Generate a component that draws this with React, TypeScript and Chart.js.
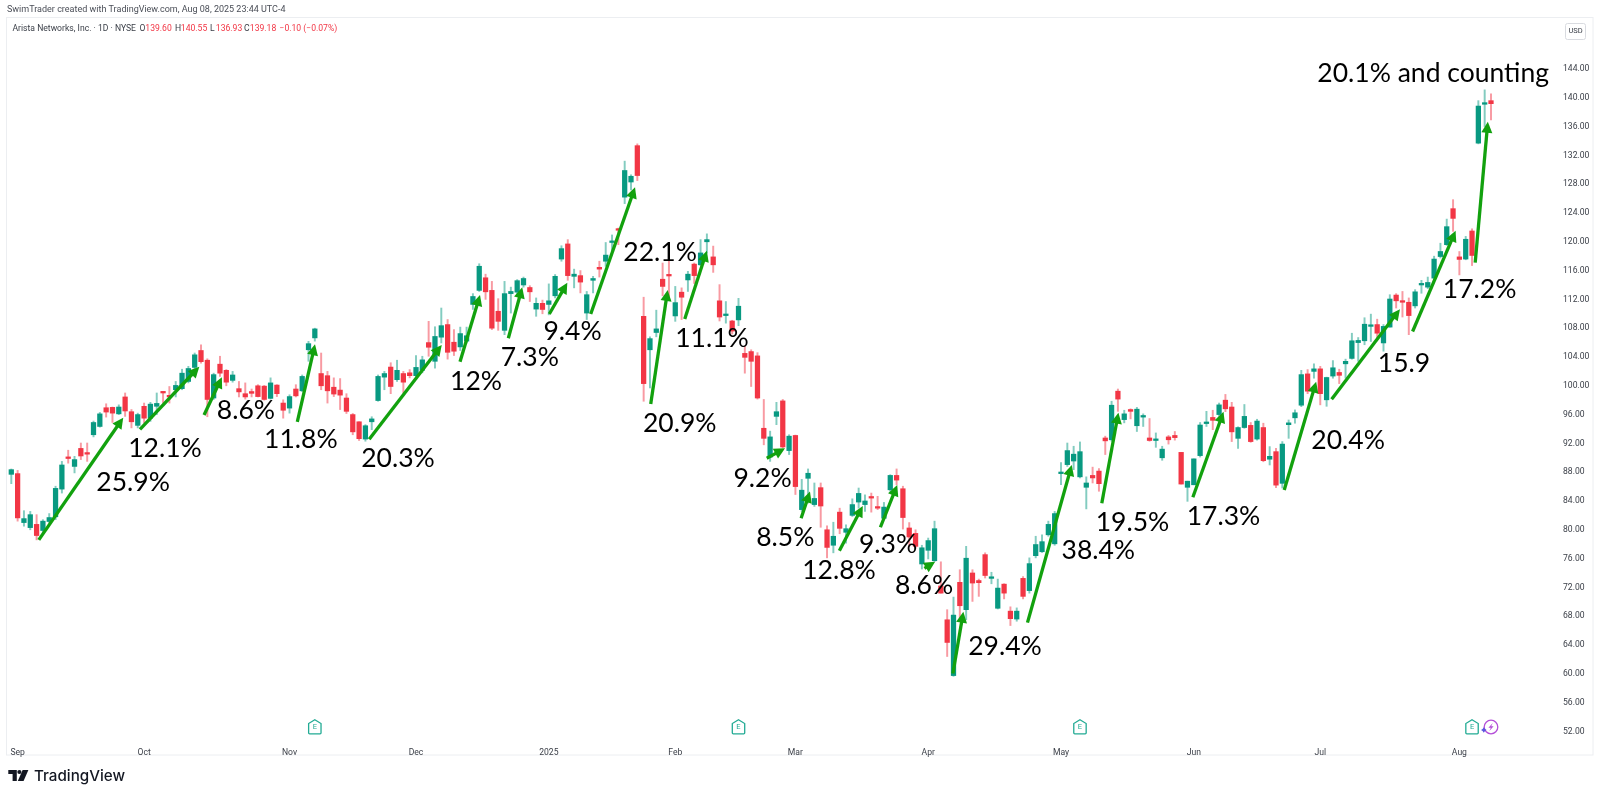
import React, { useEffect, useRef } from "react";
import { Chart, registerables } from "chart.js";

Chart.register(...registerables);

const opens = [
  87.7,87.8,81.0,80.3,80.75,79.9,81.15,81.8,85.65,90.1,
  88.8,91.3,90.6,93.2,94.35,96.95,97.0,96.1,98.45,96.4,
  94.5,97.15,95.5,97.15,99.15,98.6,99.45,99.6,100.6,102.55,
  104.9,103.55,98.3,103.0,102.15,100.75,99.6,98.9,99.2,100.0,
  99.95,98.25,100.1,97.6,96.9,99.55,99.3,105.0,106.65,101.7,
  101.4,99.8,99.4,98.3,96.0,95.0,92.6,95.0,97.95,101.2,
  102.6,100.85,101.7,101.8,101.4,102.15,106.0,103.4,106.75,108.5,
  106.05,105.4,106.2,111.3,113.25,115.0,113.25,110.35,107.7,112.8,
  113.0,114.0,113.65,110.65,111.45,111.3,112.5,117.6,119.7,115.2,
  115.3,110.1,114.65,116.45,117.3,119.9,121.75,126.2,128.3,133.35,
  109.65,105.0,107.4,114.8,115.4,109.7,113.0,114.7,116.9,116.8,
  120.0,117.9,111.8,109.75,109.0,109.15,104.5,104.75,104.15,94.1,
  90.1,95.75,97.9,91.0,93.1,82.8,87.15,83.5,85.85,80.0,
  77.85,82.45,79.65,82.0,83.85,83.5,84.55,83.1,81.6,85.55,
  87.55,85.7,80.25,79.5,75.25,77.15,75.7,72.2,67.5,59.75,
  72.7,68.9,74.0,72.95,76.55,73.25,69.1,72.45,68.7,67.6,
  73.25,71.55,76.4,76.95,79.3,78.05,87.8,89.05,89.55,87.35,
  85.9,87.55,88.15,92.75,92.5,99.25,95.3,96.7,94.45,95.65,
  92.75,92.4,90.0,92.9,93.1,90.75,85.9,86.25,90.3,94.75,
  95.6,96.0,98.0,97.05,92.7,94.2,94.5,92.6,94.2,89.8,
  90.85,86.45,94.6,95.55,97.3,101.65,102.0,102.35,98.05,101.35,
  101.85,103.05,103.8,106.0,106.25,108.25,108.5,105.95,108.15,112.6,
  111.8,111.6,111.1,114.0,113.7,114.95,117.95,119.6,124.6,117.9,
  117.6,121.5,133.7,139.1,139.6,
];

const highs = [
  88.44,88.25,82.65,82.55,82.1,81.4,82.25,86.05,89.5,91.05,
  90.2,92.05,92.05,95.1,96.3,97.5,97.05,97.35,99.0,96.7,
  96.2,97.6,97.7,99.0,99.2,99.9,100.6,102.3,102.7,104.55,
  105.7,103.75,101.75,104.1,102.25,102.0,100.6,100.4,99.55,100.15,
  100.05,101.1,100.15,98.05,98.75,100.15,101.5,106.17,108.0,104.55,
  102.0,101.1,101.0,98.9,96.15,95.0,94.6,95.7,101.5,102.0,
  103.2,103.55,102.0,102.25,104.2,104.1,108.95,108.2,110.8,109.2,
  107.8,108.15,108.15,112.8,116.95,115.5,114.5,112.1,114.5,113.7,
  114.75,115.1,113.9,112.2,111.9,114.15,115.45,119.45,120.3,116.2,
  116.0,113.1,115.2,117.3,119.9,120.95,121.9,131.2,129.3,133.6,
  112.3,106.8,110.5,117.05,117.4,113.8,113.6,115.9,117.05,120.3,
  121.1,119.4,114.05,111.7,109.1,112.15,105.5,105.0,104.6,98.1,
  93.7,97.7,98.1,93.2,93.15,87.0,88.45,86.5,86.5,80.55,
  81.05,83.0,80.7,84.3,85.8,84.85,85.1,84.65,83.8,87.65,
  88.45,86.05,81.0,80.0,77.85,78.85,81.2,75.55,68.9,70.65,
  74.45,77.7,74.45,73.15,76.8,74.1,73.15,72.5,69.3,69.15,
  73.5,76.1,79.1,79.3,81.2,82.55,89.35,92.05,91.6,92.2,
  87.35,88.7,88.5,93.0,97.85,99.55,96.6,96.8,97.0,96.1,
  95.45,93.45,91.6,93.1,93.65,90.75,86.75,89.85,94.9,96.45,
  96.6,97.6,98.8,97.7,94.3,97.4,94.9,95.35,94.8,91.55,
  91.3,92.25,95.25,96.65,102.15,102.25,103.05,102.7,101.2,103.5,
  102.3,103.7,107.3,106.7,109.45,109.95,109.25,108.5,112.65,112.8,
  113.1,112.2,113.35,114.65,115.1,118.0,119.8,123.15,125.85,118.65,
  120.75,121.8,139.6,141.1,140.55,
];

const lows = [
  86.4,81.2,80.5,80.0,78.6,79.55,80.95,81.4,85.1,89.25,
  87.9,89.75,89.5,92.9,94.25,95.65,94.9,96.0,95.75,94.15,
  94.15,94.85,95.05,96.0,97.6,97.6,98.45,99.45,100.4,102.25,
  103.15,95.7,98.1,101.3,100.0,100.5,98.45,98.15,98.45,98.45,
  98.0,98.15,98.5,95.5,96.2,98.45,99.2,103.4,106.2,99.45,
  97.6,98.5,96.7,96.15,93.2,92.4,92.3,93.9,97.85,99.45,
  98.9,100.6,99.0,101.1,101.1,101.8,104.1,102.45,105.95,103.7,
  104.2,104.9,105.95,110.6,113.1,112.0,107.8,107.7,107.1,110.1,
  112.4,113.7,111.7,109.65,110.0,109.85,112.2,117.3,114.65,113.6,
  112.9,109.2,112.9,115.1,116.6,118.2,119.6,125.3,127.2,128.5,
  97.85,99.7,106.8,112.5,112.4,108.95,109.2,113.1,114.2,116.7,
  118.45,115.75,109.0,108.7,107.2,108.35,101.75,99.9,98.15,91.8,
  89.5,94.6,91.35,90.45,84.9,82.55,83.7,83.25,80.35,76.1,
  76.8,79.45,78.15,81.85,83.0,82.55,82.45,82.8,81.4,85.35,
  86.25,80.1,77.7,77.45,74.55,75.95,75.6,71.2,62.4,59.65,
  67.75,67.5,70.05,70.75,73.3,72.5,69.0,70.4,66.7,67.3,
  70.4,71.2,76.1,76.85,79.1,77.85,86.25,88.8,88.35,87.2,
  82.9,86.5,85.35,90.45,92.3,96.45,94.85,95.4,93.65,94.35,
  92.3,91.45,89.65,91.9,92.45,86.35,83.95,86.25,90.1,94.35,
  93.9,95.75,96.4,92.25,91.3,94.1,92.15,92.45,89.45,89.0,
  85.85,85.8,92.7,94.8,97.1,98.9,101.05,97.35,97.15,101.05,
  100.3,101.05,103.7,103.4,105.7,106.15,106.6,104.8,108.15,110.8,
  109.55,107.1,110.8,112.85,113.5,114.7,117.75,119.5,121.45,115.4,
  117.5,116.7,133.6,136.0,136.93,
];

const closes = [
  88.35,81.65,81.55,82.1,79.2,81.2,81.7,85.75,89.0,89.9,
  89.75,90.25,90.5,94.9,96.1,96.35,96.2,97.05,96.5,95.0,
  96.0,95.5,97.45,97.55,99.0,98.45,100.05,101.75,102.4,104.3,
  103.35,98.1,101.55,101.75,100.5,101.5,99.15,98.45,98.95,98.5,
  98.1,100.4,98.9,96.6,98.5,98.6,101.3,105.85,107.9,100.0,
  99.3,98.85,98.7,96.45,93.6,92.65,94.45,95.4,101.3,101.7,
  99.9,102.15,100.5,101.4,102.55,103.6,105.35,106.85,108.35,104.65,
  104.8,107.25,106.95,112.4,116.6,113.05,108.0,108.95,112.8,113.1,
  114.6,114.9,113.05,111.45,110.6,111.8,115.2,119.05,115.3,115.5,
  114.4,112.65,114.9,116.2,118.15,120.0,121.6,129.9,129.1,129.2,
  100.3,106.55,107.9,113.8,115.25,111.55,112.3,115.5,115.3,118.45,
  120.3,116.8,109.55,109.85,107.6,111.05,103.95,103.4,98.3,92.7,
  92.9,96.4,91.5,93.0,86.0,85.5,87.85,84.35,83.3,77.55,
  79.1,80.2,80.15,83.5,85.05,84.0,84.4,83.0,83.15,87.55,
  86.9,81.7,79.0,77.7,77.5,78.5,80.15,71.2,64.35,68.15,
  69.45,76.05,72.6,72.65,73.65,73.35,71.9,71.2,67.65,68.7,
  70.75,75.3,77.95,78.35,80.75,82.25,87.95,91.0,90.5,90.85,
  86.5,87.2,86.4,92.35,97.3,98.15,96.1,96.45,96.75,95.75,
  92.4,92.55,91.2,92.5,92.8,86.35,86.75,89.85,94.55,94.95,
  95.2,97.35,96.8,93.6,94.2,95.75,92.25,95.1,89.6,90.2,
  86.2,91.9,94.85,96.25,101.55,99.25,102.35,98.9,101.15,102.5,
  101.45,103.4,106.25,106.3,108.55,108.4,107.3,108.25,112.05,111.8,
  111.6,109.75,113.05,114.1,114.35,117.6,118.65,122.1,123.25,117.55,
  120.35,118.1,138.85,139.2,139.18,
];

const priceTicks = [52,56,60,64,68,72,76,80,84,88,92,96,100,104,108,112,116,120,124,128,132,136,140,144];
const monthSessions = [1,21,44,64,85,105,124,145,166,187,207,229];
const monthNames = ["Sep","Oct","Nov","Dec","2025","Feb","Mar","Apr","May","Jun","Jul","Aug"];
const earningsSessions = [48,115,169,231];

const arrowFromSession = [4.35,20.35,30.48,45.23,56.6,70.96,78.6,85.08,91.63,101.12,106.5,119.47,124.9,130.95,137.44,144.4,148.9,160.7,172.45,186.85,201.3,208.8,221.6,231.5];
const arrowFromPrice = [78.6,93.96,95.94,95.0,92.57,103.35,106.6,109.97,109.97,97.47,109.28,89.93,81.6,77.1,80.35,74.65,60.04,67.1,83.68,84.51,85.53,98.12,107.54,117.1];
const arrowToSession = [17.7,29.73,33.3,48.03,68.07,74.12,80.8,87.93,98.64,103.8,110.0,122.36,126.3,134.65,140.1,146.1,150.56,167.7,175.08,191.7,206.35,219.6,228.4,233.5];
const arrowToPrice = [95.57,102.65,101.18,105.76,105.67,112.61,113.68,114.32,127.57,113.31,118.76,91.32,85.3,83.3,86.22,75.57,68.62,89.0,96.26,96.4,100.57,110.63,121.54,136.68];

const noteTexts = ["25.9%","12.1%","8.6%","11.8%","20.3%","12%","7.3%","9.4%","22.1%","20.9%","11.1%","9.2%","8.5%","12.8%","9.3%","8.6%","29.4%","38.4%","19.5%","17.3%","20.4%","15.9","17.2%","20.1% and counting"];
const noteSessions = [19.26,24.3,37.1,45.8,61.15,73.5,82.0,88.75,102.6,105.7,110.8,118.8,122.4,130.9,138.65,144.35,157.15,171.9,177.3,191.7,211.4,220.25,232.2,224.85];
const notePrices = [86.64,91.25,96.57,92.61,89.97,100.67,104,107.53,118.58,94.76,106.57,87.06,79,74.42,77.9,72.2,63.86,77.15,81,81.8,92.47,103.17,113.44,143.37];

const headerText = "SwimTrader created with TradingView.com, Aug 08, 2025 23:44 UTC-4";
const legendName = "Arista Networks, Inc. · 1D · NYSE";
const legendLetters = ["O","H","L","C"];
const legendValues = ["139.60","140.55","136.93","139.18"];
const legendChange = "−0.10 (−0.07%)";

const UP = "#089981";
const DOWN = "#f23645";
const UP_WICK = "rgba(8,153,129,0.5)";
const DOWN_WICK = "rgba(242,54,69,0.5)";
const ARROW = "#12a10e";

const sessions = opens.map((_, i) => {
  const k = monthSessions.indexOf(i);
  return k >= 0 ? monthNames[k] : "";
});
const isUp = closes.map((c, i) => c >= opens[i]);

const overlay = {
  id: "overlay",
  beforeDraw(chart: any) {
    const ctx = chart.ctx;
    ctx.save();
    ctx.fillStyle = "#ffffff";
    ctx.fillRect(0, 0, chart.width, chart.height);
    ctx.strokeStyle = "#eceef1";
    ctx.lineWidth = 1;
    ctx.strokeRect(6.5, 17.5, 1586.5, 737.5);
    ctx.textBaseline = "middle";
    ctx.textAlign = "left";
    ctx.fillStyle = "#4a4e57";
    ctx.font = "9px Roboto";
    ctx.fillText(headerText, 7, 10);
    ctx.font = "8.6px Roboto";
    ctx.fillStyle = "#3c4049";
    ctx.fillText(legendName, 12.5, 29);
    const letterX = [139.5, 175, 210, 244];
    legendValues.forEach((v, i) => {
      ctx.fillStyle = "#3c4049";
      ctx.fillText(legendLetters[i], letterX[i], 29);
      ctx.fillStyle = DOWN;
      ctx.fillText(v, letterX[i] + 5.8, 29);
    });
    ctx.fillText(legendChange, 279.5, 29);
    // USD box
    ctx.strokeStyle = "#d9dbe0";
    ctx.beginPath();
    ctx.roundRect(1565.5, 23.5, 20, 16, 2);
    ctx.stroke();
    ctx.fillStyle = "#3c4049";
    ctx.textAlign = "center";
    ctx.font = "7.5px Roboto";
    ctx.fillText("USD", 1575.5, 31.5);
    // brand
    ctx.fillStyle = "#131722";
    ctx.beginPath();
    ctx.rect(8.3, 770, 8.5, 4);
    ctx.rect(12.6, 770, 4.2, 11);
    ctx.fill();
    ctx.beginPath();
    ctx.arc(19.4, 772, 2.1, 0, Math.PI * 2);
    ctx.fill();
    ctx.beginPath();
    ctx.moveTo(22.6, 770);
    ctx.lineTo(28.4, 770);
    ctx.lineTo(23.6, 781);
    ctx.lineTo(17.8, 781);
    ctx.closePath();
    ctx.fill();
    ctx.textAlign = "left";
    ctx.font = "500 15.2px Inter";
    ctx.fillText("TradingView", 34, 776);
    ctx.restore();
  },
  beforeDatasetDraw(chart: any, args: any) {
    const ds = chart.data.datasets[args.index];
    if (!ds.isArrow) return;
    const xa = chart.scales.xa, y = chart.scales.y;
    const pts = args.meta.data;
    const tx = xa.getPixelForValue(ds.data[1].x), ty = y.getPixelForValue(ds.data[1].y);
    const fx = xa.getPixelForValue(ds.data[0].x), fy = y.getPixelForValue(ds.data[0].y);
    const len = Math.hypot(tx - fx, ty - fy);
    pts[1].x = tx - ((tx - fx) / len) * 8;
    pts[1].y = ty - ((ty - fy) / len) * 8;
  },
  afterDatasetsDraw(chart: any) {
    const ctx = chart.ctx;
    const xa = chart.scales.xa, y = chart.scales.y;
    ctx.save();
    ctx.fillStyle = ARROW;
    arrowToSession.forEach((_, i) => {
      const tx = xa.getPixelForValue(arrowToSession[i]), ty = y.getPixelForValue(arrowToPrice[i]);
      const fx = xa.getPixelForValue(arrowFromSession[i]), fy = y.getPixelForValue(arrowFromPrice[i]);
      const a = Math.atan2(ty - fy, tx - fx);
      const L = 11, W = 5.5;
      ctx.beginPath();
      ctx.moveTo(tx, ty);
      ctx.lineTo(tx - L * Math.cos(a) + W * Math.sin(a), ty - L * Math.sin(a) - W * Math.cos(a));
      ctx.lineTo(tx - L * Math.cos(a) - W * Math.sin(a), ty - L * Math.sin(a) + W * Math.cos(a));
      ctx.closePath();
      ctx.fill();
    });
    ctx.fillStyle = "#000000";
    ctx.textAlign = "center";
    ctx.textBaseline = "middle";
    ctx.font = "26.5px Lato";
    noteTexts.forEach((t, i) => {
      ctx.fillText(t, xa.getPixelForValue(noteSessions[i]), y.getPixelForValue(notePrices[i]));
    });
    // earnings flags
    const iy = chart.chartArea.bottom - 11;
    earningsSessions.forEach((s) => {
      const cx = xa.getPixelForValue(s);
      ctx.strokeStyle = "#22ab94";
      ctx.fillStyle = "#ffffff";
      ctx.lineWidth = 1.3;
      ctx.beginPath();
      ctx.moveTo(cx, iy - 7.3);
      ctx.lineTo(cx + 6.2, iy - 3.5);
      ctx.lineTo(cx + 6.2, iy + 6);
      ctx.quadraticCurveTo(cx + 6.2, iy + 6.8, cx + 5.2, iy + 6.8);
      ctx.lineTo(cx - 5.2, iy + 6.8);
      ctx.quadraticCurveTo(cx - 6.2, iy + 6.8, cx - 6.2, iy + 6);
      ctx.lineTo(cx - 6.2, iy - 3.5);
      ctx.closePath();
      ctx.fill();
      ctx.stroke();
      ctx.fillStyle = "#22ab94";
      ctx.font = "7.5px Roboto";
      ctx.fillText("E", cx, iy + 0.5);
    });
    // dividend/news marker
    const bx = xa.getPixelForValue(234);
    ctx.strokeStyle = "#b44fd8";
    ctx.lineWidth = 1.3;
    ctx.beginPath();
    ctx.arc(bx, iy, 6.8, 0, Math.PI * 2);
    ctx.fillStyle = "#ffffff";
    ctx.fill();
    ctx.stroke();
    ctx.fillStyle = "#b44fd8";
    ctx.beginPath();
    ctx.moveTo(bx + 1.8, iy - 4);
    ctx.lineTo(bx - 2.6, iy + 0.8);
    ctx.lineTo(bx - 0.2, iy + 0.8);
    ctx.lineTo(bx - 1.6, iy + 4);
    ctx.lineTo(bx + 2.6, iy - 0.8);
    ctx.lineTo(bx + 0.2, iy - 0.8);
    ctx.closePath();
    ctx.fill();
    ctx.fillStyle = "#5a55e0";
    ctx.beginPath();
    ctx.moveTo(bx - 7.2, iy + 0.2);
    ctx.lineTo(bx - 6, iy + 2);
    ctx.lineTo(bx - 4.4, iy + 3);
    ctx.lineTo(bx - 6, iy + 4);
    ctx.lineTo(bx - 7.2, iy + 5.8);
    ctx.lineTo(bx - 8.4, iy + 4);
    ctx.lineTo(bx - 10, iy + 3);
    ctx.lineTo(bx - 8.4, iy + 2);
    ctx.closePath();
    ctx.fill();
    ctx.restore();
  },
};

export default function App() {
  const ref = useRef<HTMLCanvasElement>(null);
  useEffect(() => {
    if (!ref.current) return;
    const arrowSets = arrowToSession.map((_, i) => ({
      type: "line",
      isArrow: true,
      xAxisID: "xa",
      yAxisID: "y",
      data: [
        { x: arrowFromSession[i], y: arrowFromPrice[i] },
        { x: arrowToSession[i], y: arrowToPrice[i] },
      ],
      borderColor: ARROW,
      borderWidth: 3.3,
      pointRadius: 0,
      fill: false,
      order: 0,
      clip: false,
    }));
    const chart = new Chart(ref.current, {
      type: "bar",
      data: {
        labels: sessions,
        datasets: [
          {
            label: "Range",
            data: lows.map((l, i) => [l, highs[i]]),
            backgroundColor: isUp.map((u) => (u ? UP_WICK : DOWN_WICK)),
            barThickness: 1.3,
            grouped: false,
            order: 2,
            clip: false,
            xAxisID: "x",
            yAxisID: "y",
          },
          {
            label: "Body",
            data: opens.map((o, i) => [o, closes[i]]),
            backgroundColor: isUp.map((u) => (u ? UP : DOWN)),
            barThickness: 4.6,
            minBarLength: 1.6,
            grouped: false,
            order: 1,
            clip: false,
            xAxisID: "x",
            yAxisID: "y",
          },
          ...arrowSets,
        ] as any,
      },
      options: {
        responsive: false,
        animation: false,
        devicePixelRatio: 1,
        events: [],
        layout: { padding: { left: 11.3, top: 17, right: 0, bottom: 0 } },
        plugins: { legend: { display: false }, tooltip: { enabled: false }, title: { display: false } },
        scales: {
          x: {
            type: "category",
            offset: false,
            grid: { display: false, offset: false },
            border: { display: false },
            ticks: {
              autoSkip: false,
              maxRotation: 0,
              minRotation: 0,
              padding: 2,
              color: "#3c4049",
              font: { family: "Roboto", size: 8.6 },
              callback(this: any, v: any) { return this.getLabelForValue(v); },
            },
            afterFit(s: any) { s.height = 59; s.paddingLeft = 0; s.paddingRight = 0; },
          },
          xa: { type: "linear", display: false, min: 0, max: 234, offset: false, grid: { offset: false } },
          y: {
            type: "linear",
            position: "right",
            min: 51.08,
            max: 151.22,
            beginAtZero: false,
            grid: { display: false, drawTicks: false },
            border: { display: false },
            ticks: {
              padding: 72,
              color: "#3c4049",
              font: { family: "Roboto", size: 8.6 },
              callback: (v: any) => Number(v).toFixed(2),
            },
            afterBuildTicks(s: any) { s.ticks = priceTicks.map((value) => ({ value })); },
            afterFit(s: any) { s.width = 109; s.paddingTop = 0; s.paddingBottom = 0; },
          },
        },
      } as any,
      plugins: [overlay as any],
    });
    return () => chart.destroy();
  }, []);
  return (
    <div style={{ position: "absolute", left: 0, top: 0, width: 1600, height: 797, background: "#fff" }}>
      <canvas ref={ref} width={1600} height={797} style={{ display: "block" }} />
    </div>
  );
}
